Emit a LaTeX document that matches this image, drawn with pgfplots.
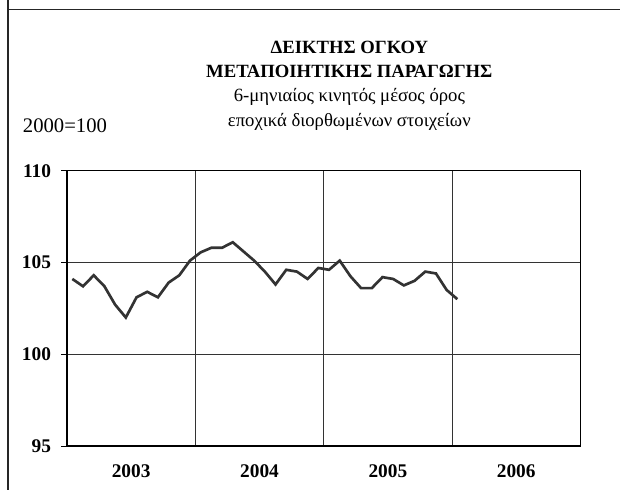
\documentclass[border=0pt]{standalone}
\usepackage{fontspec}
\setmainfont{Liberation Serif}
\usepackage{pgfplots}
\pgfplotsset{compat=1.18}
\begin{document}
\begin{tikzpicture}[x=1pt,y=1pt]
% page 620x490 px at 0.75pt per px
\useasboundingbox (0,0) rectangle (465,367.5);
\draw[line width=0.9pt, black!85] (6,367.5) -- (6,360.5) -- (465,360.5);
\draw[line width=0.9pt, black!85] (6,360.5) -- (6,0);
\begin{axis}[
  at={(50.25pt,33pt)}, anchor=south west,
  scale only axis, width=385pt, height=206.5pt,
  xmin=0, xmax=48, ymin=95, ymax=110,
  xtick={6,18,30,42}, xticklabels={2003,2004,2005,2006},
  minor xtick={12,24,36},
  xminorgrids=true, xmajorgrids=false,
  ytick={95,100,105,110}, ymajorgrids=true,
  xtick style={draw=none},
  ytick style={black, line width=0.7pt},
  tick align=outside, major tick length=4.5pt,
  ytick pos=left,
  grid style={black!80, line width=0.7pt},
  minor grid style={black!80, line width=0.7pt},
  axis line style={black, line width=1pt},
  /pgf/number format/assume math mode=true,
  tick label style={font=\fontsize{14.5}{16}\selectfont\bfseries},
  yticklabel style={xshift=-4pt},
  xticklabel style={yshift=-6pt},
]
\addplot[black!80, line width=2pt, mark=none] coordinates {
(0.5,104.1) (1.5,103.7) (2.5,104.3) (3.5,103.7) (4.5,102.7) (5.5,102.0)
(6.5,103.1) (7.5,103.4) (8.5,103.1) (9.5,103.9) (10.5,104.3) (11.5,105.1)
(12.5,105.55) (13.5,105.8) (14.5,105.8) (15.5,106.1) (16.5,105.6) (17.5,105.1)
(18.5,104.5) (19.5,103.8) (20.5,104.6) (21.5,104.5) (22.5,104.1) (23.5,104.7)
(24.5,104.6) (25.5,105.1) (26.5,104.25) (27.5,103.6) (28.5,103.6) (29.5,104.2)
(30.5,104.1) (31.5,103.75) (32.5,104.0) (33.5,104.5) (34.5,104.4) (35.5,103.5)
(36.5,103.0)
};
\end{axis}
\node[anchor=base, font=\fontsize{14}{16}\selectfont\bfseries] at (262,327.5) {ΔΕΙΚΤΗΣ ΟΓΚΟΥ};
\node[anchor=base, font=\fontsize{14}{16}\selectfont\bfseries] at (262,309.5) {ΜΕΤΑΠΟΙΗΤΙΚΗΣ ΠΑΡΑΓΩΓΗΣ};
\node[anchor=base, font=\fontsize{14}{16}\selectfont] at (262,291) {6-μηνιαίος κινητός μέσος όρος};
\node[anchor=base, font=\fontsize{14}{16}\selectfont] at (262,272.5) {εποχικά διορθωμένων στοιχείων};
\node[anchor=base west, inner sep=0pt, font=\fontsize{15.5}{17}\selectfont] at (17,268) {2000=100};
\end{tikzpicture}
\end{document}
